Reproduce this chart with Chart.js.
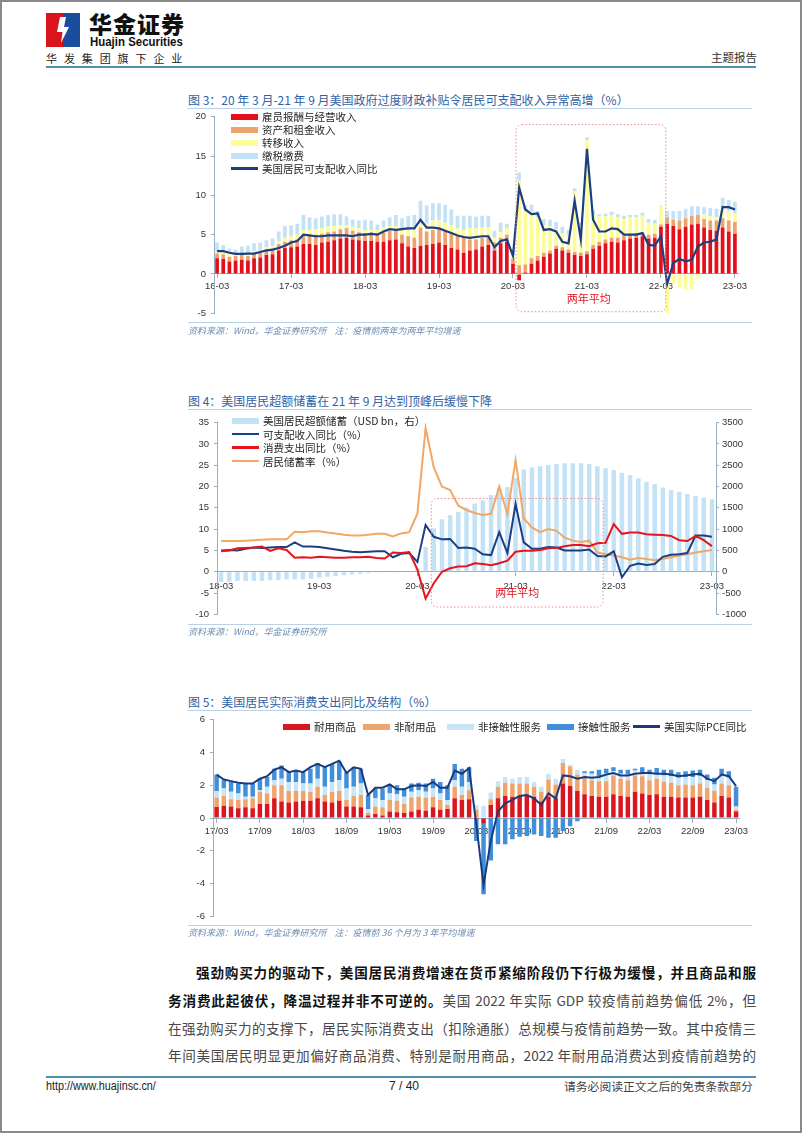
<!DOCTYPE html>
<html lang="zh-CN">
<head>
<meta charset="utf-8">
<title>华金证券 主题报告 7/40</title>
<script src="https://cdn.jsdelivr.net/npm/chart.js@4.4.1/dist/chart.umd.min.js"></script>
<style>
  html, body { margin: 0; padding: 0; background: #fff; }
  #page { position: relative; width: 802px; height: 1133px; overflow: hidden; background: #fff;
          font-family: "Noto Sans CJK SC", "Liberation Sans", sans-serif; color: #222; }
  #frame { position: absolute; left: 0; top: 0; width: 802px; height: 1133px; box-sizing: border-box;
           border: 2px solid #8a8a8a; pointer-events: none; }
  .abs { position: absolute; white-space: nowrap; }
  canvas { position: absolute; }
  .fig-title { font-size: 12px; color: #2f62a5; line-height: 16px; }
  .rule { position: absolute; left: 188px; width: 564px; height: 1px; background: #b9d2e8; }
  .src { font-size: 9px; font-style: italic; color: #6d8db3; line-height: 12px; }
  .lg-row { position: absolute; display: flex; align-items: center; font-size: 10.5px; line-height: 13px;
            color: #1e1e1e; white-space: nowrap; }
  .lg-sw { display: inline-block; width: 27px; margin-right: 4px; }
  .para { position: absolute; left: 168px; width: 588px; font-size: 13.6px; line-height: 20px;
          text-align: justify; text-align-last: justify; color: #484848; }
  .para b { color: #111; font-weight: 700; }
</style>
</head>
<body>
<div id="page">
  <!-- header -->
  <svg class="abs" style="left:46px;top:13px" width="34" height="34" viewBox="0 0 34 34">
    <rect x="0" y="0" width="17" height="34" fill="#d8141c"/>
    <rect x="17" y="0" width="17" height="34" fill="#1c4d9c"/>
    <polygon points="14,4 20,4 18,14 23,14 15,30 16.5,19 11,19" fill="#fff"/>
  </svg>
  <div class="abs" style="left:89px;top:9px;font-size:23px;font-weight:900;letter-spacing:1px;color:#111;line-height:28px">华金证券</div>
  <div class="abs" style="left:90px;top:35px;font-family:'Liberation Sans',sans-serif;font-size:13px;font-weight:700;color:#111;line-height:14px;transform:scaleX(0.88);transform-origin:left top">Huajin Securities</div>
  <div class="abs" style="left:46px;top:51px;font-size:11px;letter-spacing:6.9px;color:#222;line-height:14px">华发集团旗下企业</div>
  <div class="abs" style="left:711px;top:50px;font-size:11.5px;color:#333;line-height:15px">主题报告</div>
  <div class="abs" style="left:46px;top:66px;width:710px;height:2px;background:#4f8fb0"></div>

  <!-- figure 3 -->
  <div class="abs fig-title" style="left:188px;top:92px">图 3：20 年 3 月-21 年 9 月美国政府过度财政补贴令居民可支配收入异常高增（%）</div>
  <div class="rule" style="top:108px"></div>
  <canvas id="c1" width="564" height="218" style="left:188px;top:106px"></canvas>
  <div class="rule" style="top:322px"></div>
  <div class="abs src" style="left:188px;top:325px">资料来源：Wind，华金证券研究所&nbsp;&nbsp;&nbsp;&nbsp;注：疫情前两年为两年平均增速</div>

  <!-- figure 4 -->
  <div class="abs fig-title" style="left:188px;top:393px">图 4：美国居民超额储蓄在 21 年 9 月达到顶峰后缓慢下降</div>
  <div class="rule" style="top:409px"></div>
  <canvas id="c2" width="564" height="213" style="left:188px;top:412px"></canvas>
  <div class="rule" style="top:624px"></div>
  <div class="abs src" style="left:188px;top:626px">资料来源：Wind，华金证券研究所</div>

  <!-- figure 5 -->
  <div class="abs fig-title" style="left:188px;top:694px">图 5：美国居民实际消费支出同比及结构（%）</div>
  <div class="rule" style="top:710px"></div>
  <canvas id="c3" width="564" height="218" style="left:188px;top:709px"></canvas>
  <div class="rule" style="top:925px"></div>
  <div class="abs src" style="left:188px;top:927px">资料来源：Wind，华金证券研究所&nbsp;&nbsp;&nbsp;&nbsp;注：疫情前 36 个月为 3 年平均增速</div>

  <!-- body text -->
  <div class="para" style="top:962px;padding-left:28px;width:560px"><b>强劲购买力的驱动下，美国居民消费增速在货币紧缩阶段仍下行极为缓慢，并且商品和服</b></div>
  <div class="para" style="top:990px"><b>务消费此起彼伏，降温过程并非不可逆的。</b>美国 2022 年实际 GDP 较疫情前趋势偏低 2%，但</div>
  <div class="para" style="top:1018px">在强劲购买力的支撑下，居民实际消费支出（扣除通胀）总规模与疫情前趋势一致。其中疫情三</div>
  <div class="para" style="top:1045px">年间美国居民明显更加偏好商品消费、特别是耐用商品，2022 年耐用品消费达到疫情前趋势的</div>

  <!-- footer -->
  <div class="abs" style="left:46px;top:1076px;width:710px;height:1.5px;background:#4f8fb0"></div>
  <div class="abs" style="left:46px;top:1079px;font-family:'Liberation Sans',sans-serif;font-size:12px;color:#222;line-height:15px;transform:scaleX(0.9);transform-origin:left top">http://www.huajinsc.cn/</div>
  <div class="abs" style="left:389px;top:1079px;font-family:'Liberation Sans',sans-serif;font-size:12px;color:#222;line-height:15px">7 / 40</div>
  <div class="abs" style="left:564px;top:1078px;font-size:11.8px;color:#444;line-height:15px">请务必阅读正文之后的免责条款部分</div>

  <div id="frame"></div>
</div>

<script>
// ---------- figure 3: disposable income contributions, 16-03 .. 23-03 (monthly) ----------
const compensation = [
  2.0,1.9,1.6,1.7,1.8,1.7,2.0,2.1,2.4,2.5,
  3.0,3.3,3.4,3.5,3.8,3.8,3.7,4.0,4.1,4.3,4.5,4.6,
  4.4,4.3,4.2,4.2,4.1,4.1,4.3,4.4,3.9,3.5,3.3,3.6,
  3.7,3.8,4.0,3.7,3.3,3.1,2.7,3.0,3.1,3.5,3.7,3.0,
  3.9,4.1,1.3,-0.8,0.2,1.3,1.7,2.2,2.6,3.2,3.0,2.7,
  2.4,2.3,2.5,3.2,3.6,3.9,4.1,4.0,4.3,4.5,4.6,4.8,
  4.5,4.6,6.0,6.4,6.1,5.7,6.0,6.3,6.4,5.9,5.6,5.5,
  5.9,5.4,5.1];
const assetIncome = [
  0.6,0.6,0.6,0.6,0.6,0.6,0.6,0.6,0.6,0.7,
  0.8,0.8,0.9,0.9,1.0,1.1,1.3,1.1,1.2,1.1,1.2,1.2,
  1.1,1.0,1.0,1.1,1.1,1.2,1.2,1.1,1.1,1.3,1.3,2.3,
  1.7,1.8,1.7,1.8,1.8,1.7,1.9,1.4,1.3,1.1,1.0,1.0,
  0.7,0.9,0.6,1.1,1.0,0.7,0.6,0.5,0.4,0.4,0.4,0.4,
  0.4,0.4,0.4,0.5,0.5,0.5,0.5,0.6,0.6,0.5,0.6,0.5,
  0.5,0.5,0.3,0.8,0.8,1.1,1.1,1.1,1.1,1.1,1.2,1.3,
  1.2,1.4,1.5];
const transferIncome = [
  0.3,0.3,0.3,0.2,0.2,0.3,0.3,0.3,0.4,0.3,
  0.4,0.5,0.5,0.6,0.8,0.7,0.7,0.7,0.7,0.7,0.5,0.4,
  0.5,0.5,0.4,0.3,0.4,0.6,0.6,0.6,0.6,0.8,1.1,0.4,
  1.0,1.2,1.1,1.0,1.1,1.0,1.0,1.4,1.4,1.3,1.2,0.6,
  0.7,0.8,0.5,10.7,6.8,5.9,4.9,3.5,3.1,2.1,1.8,1.9,
  7.7,3.3,14.1,3.8,3.2,2.9,2.9,2.6,2.1,2.2,2.0,2.1,
  1.5,1.3,2.3,-5.0,-1.2,-1.7,-2.0,-2.0,-0.6,0.6,0.5,0.4,
  1.2,1.2,1.1];
const taxesFees = [
  1.1,0.9,0.7,0.6,0.9,1.0,1.0,1.0,0.9,1.0,
  1.2,1.5,1.4,1.4,1.9,1.6,1.4,1.5,1.5,1.5,1.4,1.1,
  0.9,1.0,1.3,1.2,0.7,0.9,1.1,1.4,1.5,1.8,1.8,3.0,
  2.3,2.2,2.2,2.3,2.0,1.6,1.8,1.6,1.5,1.5,1.5,0.9,
  1.2,0.6,0.7,1.1,0.7,0.9,0.8,0.8,0.8,0.9,0.8,0.6,
  0.4,0.5,0.4,0.6,0.3,0.4,0.4,0.4,0.4,0.3,0.3,0.4,
  0.5,0.5,0.1,0.8,1.1,1.2,1.2,1.2,1.1,0.9,1.1,1.1,
  1.4,1.4,1.5];
const incomeYoy = [
  2.9,2.9,2.7,2.55,2.55,2.6,2.6,2.8,3.0,3.1,
  3.3,3.6,4.0,4.2,5.0,4.9,4.8,4.8,4.9,4.9,4.9,4.9,
  4.8,5.0,5.0,5.1,5.0,5.4,5.7,5.6,5.7,5.8,5.8,6.9,
  5.9,5.9,5.8,5.5,5.2,4.9,4.7,4.6,4.7,4.8,4.8,3.4,
  4.2,4.4,2.3,11.0,8.2,7.6,7.7,5.6,5.7,5.4,4.1,3.9,
  9.3,4.4,15.9,6.9,5.4,5.4,5.8,5.7,5.0,5.0,5.0,5.2,
  3.7,3.6,4.8,-1.3,1.4,1.9,1.6,1.8,3.5,4.0,4.1,4.4,
  8.5,8.5,8.2];

// ---------- figure 4: excess savings etc., 18-03 .. 23-03 ----------
const excessSavings = [
  -235,-235,-220,-220,-220,-220,-200,-200,-185,-185,
  -185,-165,-140,-120,-100,-85,-65,-50,-35,-20,-10,-5,
  0,0,80,580,1020,1230,1330,1410,1510,1600,1680,1800,
  1940,1990,2200,2400,2450,2480,2505,2530,2545,2545,2545,2530,
  2480,2430,2390,2325,2270,2190,2115,2060,1980,1920,1880,1825,
  1780,1745,1700];
const incomeYoy4 = incomeYoy.slice(24);   // same series, from 18-03
const spendingYoy = [
  4.8,5.0,5.5,5.6,5.7,5.9,4.9,5.5,5.1,3.3,
  3.4,3.3,3.5,3.4,3.3,3.3,3.4,3.4,3.5,3.2,3.1,4.5,
  4.4,4.6,0.5,-6.3,-2.7,0.0,0.8,1.2,1.3,2.0,1.8,1.5,
  2.0,2.6,4.7,4.9,4.9,5.1,5.5,5.6,6.0,6.3,6.3,6.0,
  6.7,6.8,11.2,8.9,9.2,9.2,8.8,8.7,8.6,8.4,7.4,7.2,
  8.4,7.4,6.0];
const savingRate = [
  7.2,7.2,7.2,7.3,7.4,7.5,7.6,7.6,7.6,9.4,
  9.3,9.5,9.5,9.2,9.0,8.7,8.5,8.5,8.7,8.9,8.9,8.3,
  9.0,9.3,13.7,33.8,24.5,20.0,19.2,15.5,14.5,13.8,13.3,13.6,
  20.0,13.5,26.2,12.5,10.4,9.3,10.0,9.6,8.0,7.3,7.0,7.3,
  4.5,4.1,3.8,3.4,2.8,3.2,3.0,2.7,3.0,3.4,3.8,4.1,
  4.5,4.8,5.1];

// ---------- figure 5: real PCE structure, 17/03 .. 23/03 ----------
const durables = [
  0.67,0.75,0.7,0.6,0.65,0.6,0.85,0.85,1.2,1.0,
  0.95,1.0,1.05,1.05,1.2,1.0,0.95,1.05,0.7,0.7,
  0.65,0.15,0.25,0.15,0.4,0.35,0.3,0.4,0.5,0.45,
  0.65,0.5,0.55,1.2,1.1,1.15,-0.1,-0.35,0.8,1.2,
  1.35,1.3,1.35,1.35,1.3,1.0,1.3,1.2,2.1,1.95,
  1.65,1.45,1.35,1.3,1.3,1.45,1.35,1.3,1.6,1.5,
  1.4,1.45,1.3,1.3,1.25,1.25,1.25,1.3,1.1,0.95,
  1.35,1.25,0.4];
const nondurables = [
  0.58,0.6,0.45,0.5,0.5,0.6,0.75,0.65,0.8,1.0,
  0.7,0.65,0.6,0.55,0.7,0.4,0.65,0.6,0.4,0.65,
  0.75,0.15,0.45,0.5,0.7,0.7,0.55,0.85,0.8,0.8,
  0.65,0.6,0.25,0.7,0.3,0.55,0.5,0.0,0.35,0.7,
  0.8,0.8,0.75,0.75,0.6,0.6,1.05,0.85,1.25,1.2,
  1.0,1.05,0.95,0.95,0.95,1.15,1.05,1.0,1.0,1.05,
  0.9,0.95,0.9,0.85,0.75,0.8,0.75,0.8,0.75,0.7,
  0.75,0.75,0.1];
const nonContactServices = [
  0.4,0.45,0.45,0.4,0.15,0.1,0.1,0.4,0.3,0.4,
  0.55,0.55,0.45,0.5,0.5,0.5,0.6,0.65,0.7,0.55,
  0.7,0.25,0.5,0.45,0.4,0.4,0.45,0.35,0.4,0.35,
  0.5,0.4,0.3,0.4,0.5,0.5,0.3,0.75,0.4,0.35,
  0.35,0.3,0.4,0.4,0.3,0.3,0.35,0.35,0.25,0.1,
  0.3,0.25,0.4,0.3,0.5,0.25,0.3,0.35,0.3,0.25,
  0.4,0.35,0.4,0.4,0.45,0.45,0.5,0.45,0.45,0.4,
  0.5,0.45,0.2];
const contactServices = [
  1.0,0.5,0.6,0.6,0.8,0.8,0.7,0.6,0.7,0.8,
  0.6,0.7,0.7,0.9,0.95,1.2,1.1,1.15,1.0,1.2,
  0.9,0.85,0.6,0.7,0.55,0.55,0.5,0.5,0.45,0.5,
  0.6,0.7,0.9,1.0,1.1,0.9,-1.3,-4.3,-2.6,-1.6,
  -1.6,-1.3,-1.15,-1.1,-1.0,-1.1,-1.2,-1.2,-0.8,-0.5,
  -0.2,0.1,0.15,0.4,0.25,0.25,0.25,0.3,0.1,0.3,
  0.25,0.3,0.35,0.4,0.35,0.35,0.4,0.4,0.35,0.4,
  0.4,0.4,1.2];
const realPceYoy = [
  2.65,2.35,2.25,2.15,2.1,2.1,2.4,2.55,2.95,3.1,
  2.8,2.9,2.8,3.1,3.3,3.1,3.3,3.5,2.75,3.1,
  3.0,1.4,1.85,1.85,2.05,1.75,1.75,1.95,2.0,1.95,
  2.2,1.85,1.85,2.9,2.7,3.05,-0.4,-4.1,-1.4,0.4,
  0.9,1.1,1.35,1.4,1.2,0.8,1.5,1.2,2.6,2.55,
  2.4,2.5,2.45,2.5,2.65,2.75,2.6,2.6,2.7,2.75,
  2.75,2.7,2.7,2.65,2.55,2.6,2.65,2.7,2.4,2.25,
  2.65,2.55,1.95];

// month category labels
function monthLabels(yy, mm, count, sep) {
  const out = [];
  for (let i = 0; i < count; i++) {
    const m = mm - 1 + i;
    const y = yy + Math.floor(m / 12);
    out.push(String(y).padStart(2, '0') + sep + String(m % 12 + 1).padStart(2, '0'));
  }
  return out;
}
const months3 = monthLabels(16, 3, incomeYoy.length, '-');
const months4 = monthLabels(18, 3, excessSavings.length, '-');
const months5 = monthLabels(17, 3, realPceYoy.length, '/');

const AXIS = '#97adc4';
const TICK = '#333';
const NUM_FONT = { family: "'Liberation Sans', Arial, sans-serif", size: 9.5 };

const periodBox = {
  id: 'periodBox',
  afterDatasetsDraw(chart, args, o) {
    if (!o || o.x0 === undefined) return;
    const xs = chart.scales.x, ys = chart.scales.y;
    const l = xs.getPixelForValue(o.x0), r = xs.getPixelForValue(o.x1);
    const t = ys.getPixelForValue(o.y0), b = ys.getPixelForValue(o.y1);
    const c = chart.ctx;
    c.save();
    c.strokeStyle = '#e88d90';
    c.lineWidth = 1;
    c.setLineDash([1.5, 2]);
    c.beginPath();
    if (c.roundRect) c.roundRect(l, t, r - l, b - t, 6); else c.rect(l, t, r - l, b - t);
    c.stroke();
    c.setLineDash([]);
    c.fillStyle = '#e3101c';
    c.font = '11px "Noto Sans CJK SC", sans-serif';
    c.textAlign = 'center';
    c.textBaseline = 'middle';
    c.fillText(o.text, xs.getPixelForValue(o.tx), ys.getPixelForValue(o.ty));
    c.restore();
  }
};

function catAxis(every, stacked, pad) {
  return {
    stacked,
    position: { y: 0 },
    offset: true,
    afterFit: s => { s.height = 0; },
    border: { color: AXIS, width: 1 },
    grid: { drawOnChartArea: false, offset: false, tickLength: 4,
            tickColor: ctx => (ctx.index % every === 0 ? AXIS : 'rgba(0,0,0,0)') },
    ticks: { autoSkip: false, maxRotation: 0, minRotation: 0, padding: pad, color: TICK, font: NUM_FONT,
             callback: function (v, i) { return i % every === 0 ? this.getLabelForValue(v) : ''; } }
  };
}

function valAxis(min, max, step, width, extra) {
  return Object.assign({
    min, max,
    afterFit: s => { s.width = width; },
    border: { color: AXIS, width: 1 },
    grid: { drawOnChartArea: false, tickLength: 3, color: AXIS },
    ticks: { stepSize: step, padding: 5, color: TICK, font: NUM_FONT, callback: v => String(v) }
  }, extra || {});
}

function bar(label, data, color, pct, extra) {
  return Object.assign({ type: 'bar', label, data, backgroundColor: color, borderWidth: 0,
                         barPercentage: pct, categoryPercentage: 1, order: 2 }, extra || {});
}
function line(label, data, color, width, extra) {
  return Object.assign({ type: 'line', label, data, borderColor: color, backgroundColor: color,
                         borderWidth: width, pointRadius: 0, tension: 0, fill: false, order: 0 }, extra || {});
}

const base = { responsive: false, animation: false, devicePixelRatio: 1, events: [] };
const noPad = { padding: { top: 0, bottom: 0, left: 0, right: 0 } };

// figure 3
const chart3 = new Chart(document.getElementById('c1'), {
  type: 'bar',
  data: {
    labels: months3,
    datasets: [
      bar('雇员报酬与经营收入', compensation, '#e3101c', 0.6, { stack: 's' }),
      bar('资产和租金收入', assetIncome, '#eea36f', 0.6, { stack: 's' }),
      bar('转移收入', transferIncome, '#fdfd98', 0.6, { stack: 's' }),
      bar('缴税缴费', taxesFees, '#c4e2f6', 0.6, { stack: 's' }),
      line('美国居民可支配收入同比', incomeYoy, '#1b3f83', 2.2, { stack: 'line' })
    ]
  },
  options: Object.assign({}, base, {
    layout: { padding: { top: 0, bottom: 0, left: 0, right: 14 } },
    plugins: {
      legend: { display: false }, tooltip: { enabled: false },
      periodBox: { x0: 48.5, x1: 72.8, y0: 19.0, y1: -4.8, tx: 60.3, ty: -3.1, text: '两年平均' }
    },
    scales: {
      x: catAxis(12, true, 3),
      y: valAxis(-5, 20, 5, 26, { stacked: true })
    }
  }),
  plugins: [periodBox]
});

// figure 4
const chart4 = new Chart(document.getElementById('c2'), {
  type: 'bar',
  data: {
    labels: months4,
    datasets: [
      bar('美国居民超额储蓄（USD bn，右）', excessSavings, '#c3e2f6', 0.55, { yAxisID: 'y1', order: 3 }),
      line('可支配收入同比（%）', incomeYoy4, '#1b3f83', 2, { order: 1 }),
      line('消费支出同比（%）', spendingYoy, '#e8141c', 2, { order: 0 }),
      line('居民储蓄率（%）', savingRate, '#f1a765', 2, { order: 2 })
    ]
  },
  options: Object.assign({}, base, {
    layout: noPad,
    plugins: {
      legend: { display: false }, tooltip: { enabled: false },
      periodBox: { x0: 25.7, x1: 46.7, y0: 17.2, y1: -8.3, tx: 36.2, ty: -5.0, text: '两年平均' }
    },
    scales: {
      x: catAxis(12, false, 5),
      y: valAxis(-10, 35, 5, 29),
      y1: valAxis(-1000, 3500, 500, 36, { position: 'right',
            ticks: { stepSize: 500, padding: 3, color: TICK, font: NUM_FONT, callback: v => String(v) } })
    }
  }),
  plugins: [periodBox]
});

// figure 5
const chart5 = new Chart(document.getElementById('c3'), {
  type: 'bar',
  data: {
    labels: months5,
    datasets: [
      bar('耐用商品', durables, '#d9151f', 0.62, { stack: 's' }),
      bar('非耐用品', nondurables, '#f0a46d', 0.62, { stack: 's' }),
      bar('非接触性服务', nonContactServices, '#c8e5f8', 0.62, { stack: 's' }),
      bar('接触性服务', contactServices, '#3f8fdb', 0.62, { stack: 's' }),
      line('美国实际PCE同比', realPceYoy, '#1b3a7c', 2, { stack: 'line' })
    ]
  },
  options: Object.assign({}, base, {
    layout: { padding: { top: 0, bottom: 0, left: 0, right: 8 } },
    plugins: { legend: { display: false }, tooltip: { enabled: false } },
    scales: {
      x: catAxis(6, true, 4),
      y: valAxis(-6, 6, 2, 25, { stacked: true })
    }
  })
});

// HTML legends built from the chart datasets
function htmlLegend(chart, left, top) {
  const page = document.getElementById('page');
  chart.data.datasets.forEach((ds, i) => {
    const row = document.createElement('div');
    row.className = 'lg-row';
    row.style.left = left(i) + 'px';
    row.style.top = top(i) + 'px';
    const sw = document.createElement('span');
    sw.className = 'lg-sw';
    const isLine = ds.type === 'line';
    sw.style.height = isLine ? '2.5px' : '6px';
    sw.style.background = isLine ? ds.borderColor : ds.backgroundColor;
    const tx = document.createElement('span');
    tx.textContent = ds.label;
    row.appendChild(sw);
    row.appendChild(tx);
    page.appendChild(row);
  });
}
htmlLegend(chart3, () => 231, i => 110 + i * 13);
htmlLegend(chart4, () => 232, i => 414 + i * 13.5);
const lg5 = [283, 363, 447, 547, 633];
htmlLegend(chart5, i => lg5[i], () => 720);
</script>
</body>
</html>
